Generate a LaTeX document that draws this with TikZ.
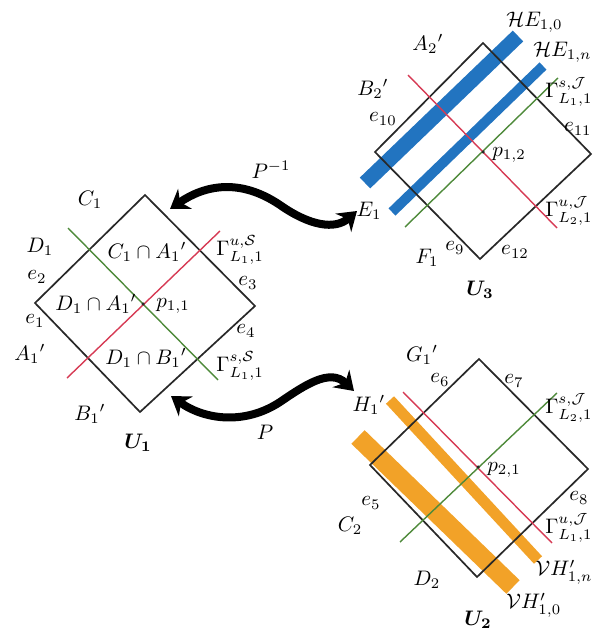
\documentclass[tikz,border=0pt]{standalone}
\usepackage{amsmath}
\usetikzlibrary{arrows.meta}
\definecolor{redl}{RGB}{214,58,84}
\definecolor{greenl}{RGB}{78,138,58}
\definecolor{bluebar}{RGB}{34,116,192}
\definecolor{orangebar}{RGB}{242,162,40}
\definecolor{edgec}{RGB}{40,40,40}
\begin{document}
\begin{tikzpicture}[x=1pt,y=-1pt,
  lbl/.style={scale=2.1, inner sep=0pt},
  rlbl/.style={lbl, anchor=east},
  boxedge/.style={draw=edgec, line width=1.7pt, line join=miter},
  redline/.style={draw=redl, line width=1.4pt},
  greenline/.style={draw=greenl, line width=1.4pt},
  bbar/.style={draw=bluebar, line cap=butt},
  obar/.style={draw=orangebar, line cap=butt},
  bigarrow/.style={line width=8pt, {Stealth[length=18pt,width=24pt]}-{Stealth[length=18pt,width=24pt]}},
  pdot/.style={fill=edgec, circle, inner sep=0pt, minimum size=3.5pt}]
\useasboundingbox (0,0) rectangle (594,631);

% ---------- U1 ----------
\coordinate (u1t) at (145,195);
\coordinate (u1r) at (255,306);
\coordinate (u1b) at (140,412);
\coordinate (u1l) at (35,303);
\coordinate (g1a) at (68,228);
\coordinate (g1b) at (218,380);
\coordinate (r1a) at (67,378);
\coordinate (r1b) at (220,231);
\draw[boxedge] (u1t) -- (u1r) -- (u1b) -- (u1l) -- cycle;
\draw[greenline] (g1a) -- (g1b);
\draw[redline] (r1a) -- (r1b);
\node[pdot] (p11dot) at (143,304) {};

\node[lbl] (C1) at (90,200) {$C_1$};
\node[lbl] (D1) at (40,247) {$D_1$};
\node[lbl] (e2) at (37,277) {$e_2$};
\node[lbl] (e1) at (35,321) {$e_1$};
\node[lbl] (A1) at (30,354) {$A_1{}'$};
\node[lbl] (B1) at (90,414) {$B_1{}'$};
\node[lbl] (U1) at (138,443) {$\boldsymbol{U_1}$};
\node[lbl] (CA) at (147,252) {$C_1\cap A_1{}'$};
\node[lbl] (DA) at (96,304) {$D_1\cap A_1{}'$};
\node[lbl, anchor=west] (p11) at (156,306) {$p_{1,1}$};
\node[lbl] (DB) at (146,358) {$D_1\cap B_1{}'$};
\node[lbl, anchor=west] (GuS) at (216,250) {$\Gamma^{u,\mathcal{S}}_{L_1,1}$};
\node[lbl] (e3) at (248,283) {$e_3$};
\node[lbl] (e4) at (246,331) {$e_4$};
\node[lbl, anchor=west] (GsS) at (216,366) {$\Gamma^{s,\mathcal{S}}_{L_1,1}$};

% ---------- U3 ----------
\coordinate (u3t) at (483,43);
\coordinate (u3r) at (591,154);
\coordinate (u3b) at (480,259);
\coordinate (u3l) at (375,152);
\coordinate (hb1a) at (365,183);
\coordinate (hb1b) at (518,36);
\coordinate (hb2a) at (392,212);
\coordinate (hb2b) at (543,66);
\coordinate (g3a) at (405,227);
\coordinate (g3b) at (558,78);
\coordinate (r3a) at (408,75);
\coordinate (r3b) at (557,228);
\draw[bbar, line width=15pt] (hb1a) -- (hb1b);
\draw[bbar, line width=10pt] (hb2a) -- (hb2b);
\draw[boxedge] (u3t) -- (u3r) -- (u3b) -- (u3l) -- cycle;
\draw[greenline] (g3a) -- (g3b);
\draw[redline] (r3a) -- (r3b);
\node[pdot] (p12dot) at (483,152) {};

\node[lbl, anchor=west] (HE0) at (506,22) {$\mathcal{H}E_{1,0}$};
\node[rlbl] (HEn) at (592,52) {$\mathcal{H}E_{1,n}$};
\node[lbl] (A2) at (428,44) {$A_2{}'$};
\node[lbl] (B2) at (373,89) {$B_2{}'$};
\node[lbl] (e10) at (383,119) {$e_{10}$};
\node[rlbl] (e11) at (592,129) {$e_{11}$};
\node[rlbl] (GsJ1) at (593,92) {$\Gamma^{s,\mathcal{J}}_{L_1,1}$};
\node[lbl, anchor=west] (p12) at (492,155) {$p_{1,2}$};
\node[lbl] (E1) at (369,211) {$E_1$};
\node[rlbl] (GuJ2) at (593,211) {$\Gamma^{u,\mathcal{J}}_{L_2,1}$};
\node[lbl] (F1) at (427,258) {$F_1$};
\node[lbl] (e9) at (455,248) {$e_9$};
\node[lbl] (e12) at (515,252) {$e_{12}$};
\node[lbl] (U3) at (480,290) {$\boldsymbol{U_3}$};

% ---------- U2 ----------
\coordinate (u2t) at (479,359);
\coordinate (u2r) at (588,469);
\coordinate (u2b) at (477,577);
\coordinate (u2l) at (370,465);
\coordinate (vb1a) at (390,400);
\coordinate (vb1b) at (538,560);
\coordinate (vb2a) at (358,437);
\coordinate (vb2b) at (513,587);
\coordinate (r2a) at (403,392);
\coordinate (r2b) at (552,543);
\coordinate (g2a) at (400,542);
\coordinate (g2b) at (557,393);
\draw[obar, line width=11pt] (vb1a) -- (vb1b);
\draw[obar, line width=19pt] (vb2a) -- (vb2b);
\draw[boxedge] (u2t) -- (u2r) -- (u2b) -- (u2l) -- cycle;
\draw[redline] (r2a) -- (r2b);
\draw[greenline] (g2a) -- (g2b);
\node[pdot] (p21dot) at (478,467) {};

\node[lbl] (G1) at (422,355) {$G_1{}'$};
\node[lbl] (e6) at (440,380) {$e_6$};
\node[lbl] (e7) at (514,381) {$e_7$};
\node[lbl] (H1) at (369,405) {$H_1{}'$};
\node[rlbl] (GsJ2) at (593,408) {$\Gamma^{s,\mathcal{J}}_{L_2,1}$};
\node[lbl, anchor=west] (p21) at (487,470) {$p_{2,1}$};
\node[lbl] (e5) at (371,503) {$e_5$};
\node[lbl] (e8) at (579,498) {$e_8$};
\node[lbl] (C2) at (350,526) {$C_2$};
\node[rlbl] (GuJ1) at (593,528) {$\Gamma^{u,\mathcal{J}}_{L_1,1}$};
\node[lbl] (D2) at (427,580) {$D_2$};
\node[rlbl] (VHn) at (593,572) {$\mathcal{V}H'_{1,n}$};
\node[lbl, anchor=west] (VH0) at (506,605) {$\mathcal{V}H'_{1,0}$};
\node[lbl] (U2) at (478,620) {$\boldsymbol{U_2}$};

% ---------- maps ----------
\coordinate (a1s) at (170,209);
\coordinate (a1e) at (357,211);
\draw[bigarrow] (a1s) .. controls (205,185) and (240,178) .. (280,205)
  .. controls (310,226) and (335,230) .. (a1e);
\node[lbl] (Pinv) at (271,170) {$P^{-1}$};

\coordinate (a2s) at (171,396);
\coordinate (a2e) at (354,391);
\draw[bigarrow] (a2s) .. controls (205,420) and (245,425) .. (280,402)
  .. controls (305,385) and (330,368) .. (a2e);
\node[lbl] (Pmap) at (265,432) {$P$};
\end{tikzpicture}
\end{document}
